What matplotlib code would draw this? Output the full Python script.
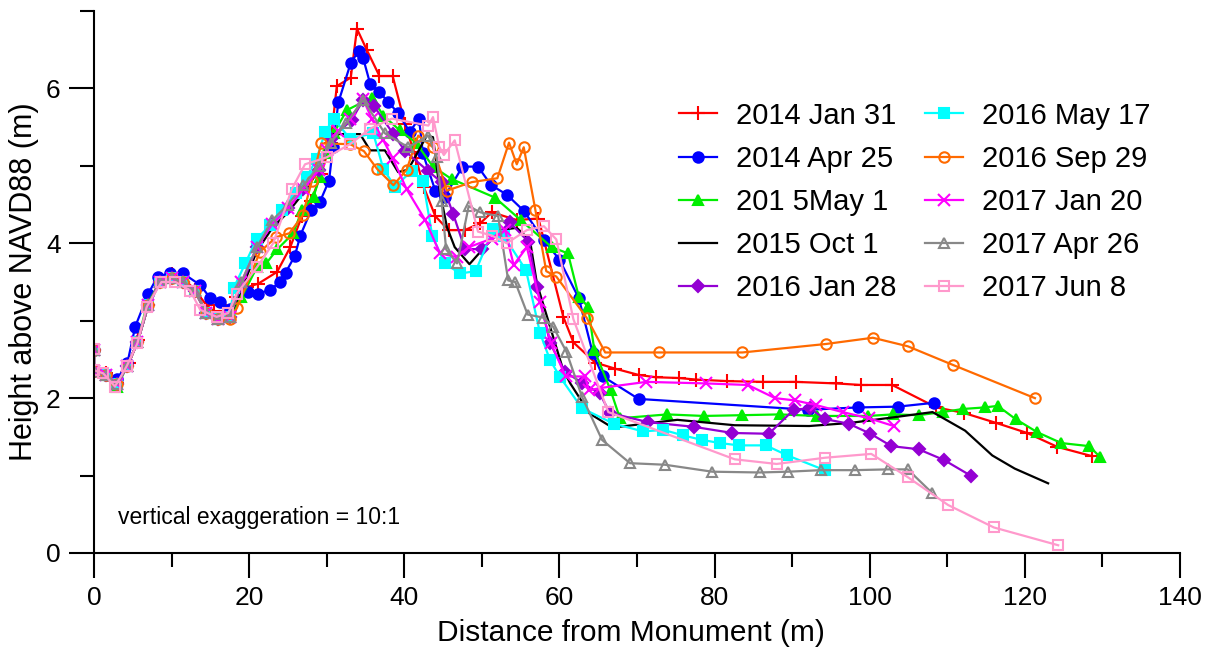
import matplotlib.pyplot as plt
from matplotlib.ticker import MultipleLocator

plt.rcParams['font.family'] = ['Liberation Sans', 'DejaVu Sans']

# survey dates
labels = ['2014 Jan 31', '2014 Apr 25', '201 5May 1', '2015 Oct 1', '2016 Jan 28',
          '2016 May 17', '2016 Sep 29', '2017 Jan 20', '2017 Apr 26', '2017 Jun 8']

# profiles: distance (m), height (m)
x_jan14 = [0, 0, 1.5, 3, 4.5, 5.7, 7, 8.5, 10, 11.5, 13, 14.5, 15.5, 17, 18.3, 19.7, 21.2, 23.6, 25.3,
           26.8, 28, 29.3, 30.5, 31.3, 33.1, 33.9, 35.2, 36.8, 38.5, 40.1, 41.5, 42.5, 44, 45.7, 47.8,
           49.8, 51.3, 54.5, 57.3, 60.5, 61.8, 64.6, 67.2, 70.2, 72.4, 75.4, 77.6, 81.6, 86.3, 90.5,
           95.7, 98.9, 102.9, 108.6, 112.1, 116.3, 120.3, 124.2, 128.7]
y_jan14 = [2.62, 2.35, 2.32, 2.2, 2.45, 2.75, 3.2, 3.52, 3.6, 3.55, 3.4, 3.2, 3.12, 3.12, 3.3, 3.43, 3.48,
           3.63, 3.95, 4.35, 4.55, 4.9, 5.3, 6.03, 6.14, 6.77, 6.49, 6.16, 6.16, 5.54, 5.1, 4.73, 4.35,
           4.17, 4.17, 4.26, 4.4, 4.3, 4.32, 3.05, 2.72, 2.46, 2.38, 2.3, 2.27, 2.26, 2.24, 2.22, 2.21,
           2.21, 2.19, 2.17, 2.17, 1.88, 1.81, 1.68, 1.55, 1.37, 1.25]

x_apr14 = [0, 0, 1.5, 3, 4.3, 5.3, 7, 8.2, 9.8, 11.5, 13.7, 15, 16.2, 17.5, 19.9, 21.2, 22.7, 24, 24.7,
           25.9, 26.6, 28, 29.1, 30.3, 30.8, 31.5, 33.1, 34.1, 34.7, 35.6, 36.8, 37.9, 39.2, 40.7, 41.9,
           42.4, 44, 45.2, 47.5, 49.5, 51.2, 53.2, 55.4, 58, 60, 62.5, 64.3, 65.6, 70.2, 92, 98.5,
           103.6, 108.3]
y_apr14 = [2.62, 2.35, 2.3, 2.25, 2.45, 2.92, 3.35, 3.57, 3.61, 3.61, 3.46, 3.29, 3.24, 3.15, 3.37,
           3.35, 3.4, 3.5, 3.62, 3.84, 4.1, 4.43, 4.53, 4.81, 5.24, 5.82, 6.33, 6.48, 6.39, 6.06, 5.95,
           5.83, 5.68, 5.44, 5.61, 5.16, 4.68, 4.6, 4.99, 4.99, 4.75, 4.63, 4.42, 4.04, 3.79, 3.29, 2.58,
           2.28, 1.99, 1.85, 1.88, 1.89, 1.94]

x_may15 = [0, 0, 1.5, 3, 4.3, 5.6, 6.8, 8.5, 10, 11.5, 13, 14.5, 16, 17.5, 19, 21, 22.2, 23.6, 25.7,
           26.8, 28.3, 29.1, 29.8, 30.9, 32.6, 35.8, 37.3, 39.4, 41.5, 43.7, 46.1, 51.7, 55, 59, 61.1,
           62.5, 63.7, 64.5, 66.6, 67.8, 73.9, 78.6, 83.6, 88.4, 93.2, 99.8, 103, 106.3, 109.4, 112,
           114.8, 116.5, 118.8, 121.6, 124.7, 128.3, 129.7]
y_may15 = [2.62, 2.35, 2.3, 2.15, 2.42, 2.72, 3.2, 3.5, 3.55, 3.5, 3.4, 3.1, 3.02, 3.05, 3.3, 3.69,
           3.74, 3.92, 4.13, 4.43, 4.6, 4.86, 5.16, 5.42, 5.72, 5.88, 5.65, 5.46, 5.3, 4.99, 4.83, 4.59,
           4.3, 3.95, 3.87, 3.31, 3.18, 2.62, 2.1, 1.74, 1.79, 1.77, 1.78, 1.79, 1.77, 1.77, 1.79, 1.78,
           1.82, 1.86, 1.88, 1.9, 1.73, 1.56, 1.42, 1.38, 1.24]

x_oct15 = [0, 0, 1.5, 3, 4.3, 5.6, 7, 8.5, 10, 11.5, 13, 14.5, 16, 17.5, 19, 21, 23, 25, 27, 29, 30.6,
           34.3, 35.6, 37.5, 39.2, 40.5, 42.9, 43.7, 44.6, 45.5, 46.5, 48.4, 52.3, 54.5, 56.2, 57.1,
           60.5, 61.4, 63.9, 66.5, 67.7, 75.2, 82.6, 92.2, 97.5, 102.9, 108.1, 112.3, 115.8, 118.7, 123]
y_oct15 = [2.62, 2.35, 2.3, 2.18, 2.42, 2.72, 3.2, 3.5, 3.55, 3.5, 3.38, 3.1, 3.02, 3.05, 3.4, 3.9,
           4.2, 4.4, 4.65, 4.95, 5.41, 5.41, 5.2, 5.2, 4.92, 4.95, 5.39, 5.37, 4.66, 4.21, 3.95, 3.73,
           4.17, 4.2, 4.04, 3.48, 2.36, 2.19, 1.8, 1.64, 1.63, 1.72, 1.65, 1.64, 1.68, 1.75, 1.82, 1.58,
           1.26, 1.09, 0.9]

x_jan16 = [0, 0, 1.5, 3, 4.3, 5.6, 7, 8.5, 10, 11.5, 13, 14.5, 16, 17.5, 19, 21, 23, 25, 27, 29, 30.5,
           33.2, 34.7, 36.1, 38.6, 40.1, 43.1, 44.8, 46.3, 47.8, 50, 53.6, 56, 57.1, 58.8, 60.7, 62.9,
           65.2, 66.5, 71.4, 77.3, 82.3, 87, 90.2, 92.3, 94.2, 97.3, 100.1, 102.8, 106.3, 109.6, 113]
y_jan16 = [2.62, 2.35, 2.3, 2.18, 2.42, 2.72, 3.2, 3.5, 3.55, 3.5, 3.38, 3.1, 3.02, 3.05, 3.45, 3.95,
           4.25, 4.45, 4.7, 4.95, 5.35, 5.59, 5.85, 5.77, 5.41, 5.19, 4.93, 4.79, 4.38, 3.93, 3.92, 4.27,
           4.02, 3.44, 2.71, 2.34, 2.2, 2.06, 1.81, 1.69, 1.63, 1.55, 1.54, 1.85, 1.87, 1.73, 1.67, 1.54,
           1.38, 1.34, 1.2, 1.0]

x_may16 = [0, 0, 1.5, 3, 4.3, 5.6, 7, 8.5, 10, 11.5, 13, 14.5, 16, 17.5, 18, 19.5, 21, 22.7, 24.2, 26,
           27.4, 28.7, 29.8, 30.9, 33, 36, 37.3, 38.8, 41, 42.4, 43.6, 45.2, 47.2, 49.2, 51.5, 52.8, 55.7,
           57.5, 58.8, 60.1, 62.9, 67, 70.8, 73.4, 75.9, 78.4, 80.7, 83.1, 86.6, 89.4, 94.2]
y_may16 = [2.62, 2.35, 2.3, 2.18, 2.42, 2.72, 3.2, 3.5, 3.55, 3.5, 3.38, 3.1, 3.02, 3.05, 3.42, 3.74,
           4.06, 4.23, 4.43, 4.65, 4.85, 5.09, 5.44, 5.61, 5.35, 5.42, 4.96, 4.73, 4.94, 4.81, 4.1, 3.74,
           3.61, 3.64, 4.19, 4.1, 3.65, 2.84, 2.49, 2.27, 1.87, 1.67, 1.57, 1.59, 1.52, 1.46, 1.42, 1.39,
           1.39, 1.26, 1.07]

x_sep16 = [0, 0, 1.5, 3, 4.3, 5.6, 7, 8.5, 10, 11.5, 13, 14.5, 16, 17.5, 18.4, 21.4, 23.5, 25.2, 26.9,
           28.1, 29.3, 33, 34.8, 36.5, 38.6, 40.3, 41.8, 43.7, 45.5, 48.7, 52, 53.5, 54.5, 55.4, 56.9,
           58.3, 59.6, 63.5, 65.9, 72.9, 83.6, 94.4, 100.4, 104.9, 110.7, 121.3]
y_sep16 = [2.62, 2.35, 2.3, 2.18, 2.42, 2.72, 3.2, 3.5, 3.55, 3.5, 3.38, 3.1, 3.02, 3.02, 3.16, 3.89,
           4.08, 4.13, 4.36, 4.81, 5.29, 5.28, 5.19, 4.96, 4.75, 4.95, 5.39, 5.24, 4.68, 4.79, 4.84, 5.3,
           5.02, 5.24, 4.43, 3.64, 3.57, 3.04, 2.59, 2.59, 2.59, 2.7, 2.78, 2.67, 2.43, 2.0]

x_jan17 = [0, 0, 1.5, 3, 4.3, 5.6, 7, 8.5, 10, 11.5, 13, 14.5, 16, 17.5, 19, 21, 23, 25, 27, 29, 30,
           31.5, 33, 34.7, 35.8, 37.3, 38.5, 40.3, 42.7, 44.6, 46.8, 48.3, 51.3, 53, 54.1, 55.8, 57.5,
           58.9, 60.8, 63.3, 63.8, 65.2, 71.2, 78.9, 84.3, 87.8, 90.4, 93.1, 96.5, 99.9, 103.1]
y_jan17 = [2.62, 2.35, 2.3, 2.18, 2.42, 2.72, 3.2, 3.5, 3.55, 3.5, 3.38, 3.1, 3.02, 3.05, 3.5, 3.95,
           4.25, 4.45, 4.7, 4.95, 5.2, 5.45, 5.61, 5.86, 5.61, 5.33, 5.1, 4.7, 4.3, 3.87, 3.82, 3.95,
           4.06, 4.17, 3.72, 3.95, 3.24, 2.71, 2.28, 2.28, 2.1, 2.13, 2.21, 2.19, 2.17, 2.0, 1.97, 1.91,
           1.82, 1.74, 1.64]

x_apr17 = [0, 0, 1.5, 3, 4.3, 5.6, 7, 8.5, 10, 11.5, 13, 14.5, 16, 17.5, 19, 21, 23, 25, 27, 29, 30.5,
           32.5, 34.7, 37.5, 40.5, 43.1, 44.2, 44.8, 45.4, 46.8, 48.3, 49.8, 52.1, 53.4, 54.3, 55.9,
           57.9, 59.2, 60.9, 62.9, 65.5, 69.1, 73.6, 79.7, 85.8, 89.5, 93.7, 98.1, 102.4, 104.9, 108]
y_apr17 = [2.62, 2.35, 2.3, 2.18, 2.42, 2.72, 3.2, 3.5, 3.55, 3.5, 3.38, 3.1, 3.02, 3.05, 3.5, 3.95,
           4.3, 4.5, 4.75, 5.0, 5.3, 5.55, 5.85, 5.42, 5.24, 5.39, 5.11, 4.55, 3.92, 3.74, 4.48, 4.4,
           4.35, 3.52, 3.5, 3.08, 3.04, 2.92, 2.6, 2.02, 1.46, 1.16, 1.14, 1.05, 1.04, 1.05, 1.07, 1.07,
           1.08, 1.08, 0.78]

x_jun17 = [0, 0, 1.2, 2.7, 4.2, 5.6, 6.8, 8.7, 10.5, 12.4, 13.7, 15.8, 17.3, 18.4, 21, 23.1, 25.5,
           27.2, 30, 33, 35.6, 38.4, 43.1, 43.7, 44.5, 45.1, 46.5, 49.5, 51.3, 53.2, 55.8, 58, 59.6,
           61.8, 66.3, 82.6, 88, 94.2, 100.2, 104.9, 110.1, 116, 124.3]
y_jun17 = [2.63, 2.36, 2.32, 2.15, 2.41, 2.71, 3.18, 3.5, 3.5, 3.39, 3.14, 3.05, 3.1, 3.35, 3.69, 4.0,
           4.7, 5.02, 5.11, 5.28, 5.48, 5.61, 5.52, 5.63, 5.25, 5.14, 5.33, 4.15, 4.1, 4.0, 4.17, 4.22,
           4.05, 3.02, 1.82, 1.21, 1.15, 1.23, 1.28, 0.98, 0.62, 0.33, 0.1]

xs = [x_jan14, x_apr14, x_may15, x_oct15, x_jan16, x_may16, x_sep16, x_jan17, x_apr17, x_jun17]
ys = [y_jan14, y_apr14, y_may15, y_oct15, y_jan16, y_may16, y_sep16, y_jan17, y_apr17, y_jun17]

colors = ['#ff0000', '#0000ff', '#00ee00', '#000000', '#9400d3',
          '#00ffff', '#ff6a00', '#ff00ff', '#888888', '#ff99cc']
markers = ['+', 'o', '^', None, 'D', 's', 'o', 'x', '^', 's']
filled = [True, True, True, True, True, True, False, True, False, False]
msizes = [10, 7.5, 7.5, 0, 6, 7, 7.5, 8, 7, 7]

fig = plt.figure(figsize=(12.1, 6.53), dpi=100)
ax = fig.add_axes([94 / 1210, 100 / 653, 1086 / 1210, 542 / 653])

for x, y, c, m, f, ms, lab in zip(xs, ys, colors, markers, filled, msizes, labels):
    if m is None:
        ax.plot(x, y, color=c, lw=1.6, label=lab)
    else:
        ax.plot(x, y, color=c, lw=1.6, marker=m, ms=ms, mew=1.5,
                mfc=c if f else 'none', mec=c, label=lab)

ax.set_xlim(0, 140)
ax.set_ylim(0, 7)
ax.xaxis.set_major_locator(MultipleLocator(20))
ax.xaxis.set_minor_locator(MultipleLocator(10))
ax.yaxis.set_major_locator(MultipleLocator(2))
ax.yaxis.set_minor_locator(MultipleLocator(1))
ax.spines['top'].set_visible(False)
ax.spines['right'].set_visible(False)
ax.spines['left'].set_linewidth(1.5)
ax.spines['bottom'].set_linewidth(1.5)
ax.tick_params(which='major', direction='out', length=18, width=1.5, labelsize=19, pad=6)
ax.tick_params(which='minor', direction='out', length=10, width=1.5)

ax.set_xlabel('Distance from Monument (m)', fontsize=21.5)
ax.set_ylabel('Height above NAVD88 (m)', fontsize=22)
ax.xaxis.set_label_coords(0.494, -0.122)
ax.yaxis.set_label_coords(-0.051, 0.5)

ax.text(3.1, 0.46, 'vertical exaggeration = 10:1', fontsize=16.5, va='center')

ax.legend(ncol=2, frameon=False, fontsize=21, loc='upper left',
          bbox_to_anchor=(667 / 1210, 1 - 90 / 653), bbox_transform=fig.transFigure,
          handlelength=1.3, handletextpad=0.65, columnspacing=1.0, labelspacing=0.52,
          borderaxespad=0)

fig.savefig('out.png', dpi=100)
